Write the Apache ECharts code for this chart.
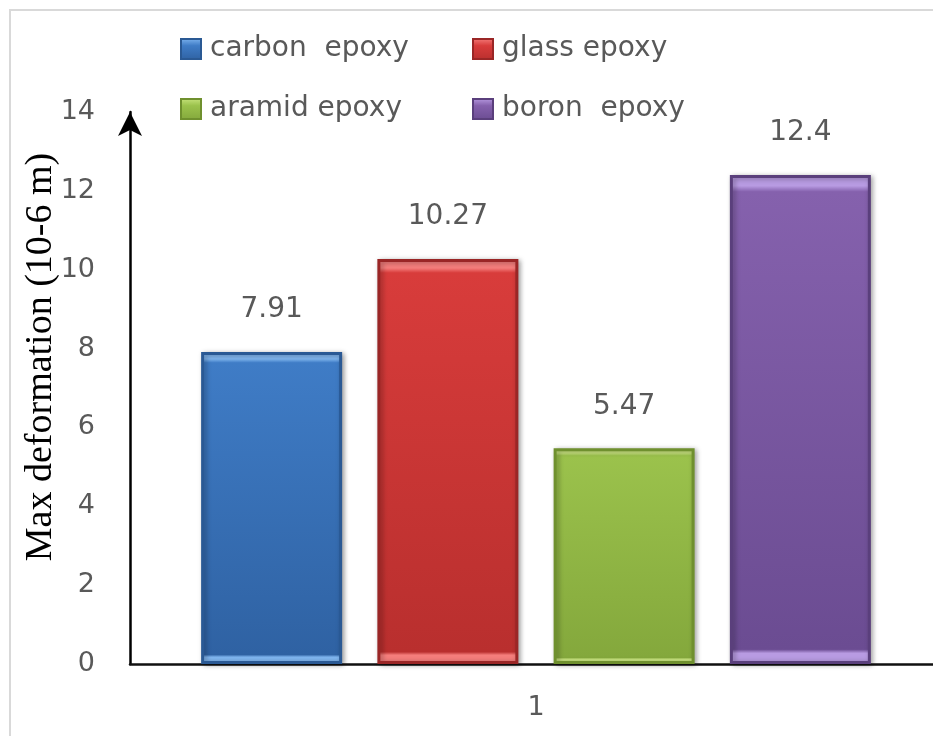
<!DOCTYPE html>
<html>
<head>
<meta charset="utf-8">
<script src="https://cdn.jsdelivr.net/npm/echarts@6/dist/echarts.min.js"></script>
<style>
  html, body { margin: 0; padding: 0; background: #ffffff; }
  #chart { width: 933px; height: 736px; }
</style>
</head>
<body>
<div id="chart"></div>
<script>
// Maximum deformation per composite material (units of 10^-6 m)
const categories = ['1'];
const seriesNames = ['carbon  epoxy', 'glass epoxy', 'aramid epoxy', 'boron  epoxy'];
const carbonEpoxy = [7.91];
const glassEpoxy = [10.27];
const aramidEpoxy = [5.47];
const boronEpoxy = [12.4];
const yTicks = { min: 0, max: 14, interval: 2 };

// Bevel-style palettes
const palettes = [
  { light: '#80b6f0', main: '#3f7cc6', dark: '#2f62a3', edge: '#2a5994' },
  { light: '#f57e7c', main: '#d83c3b', dark: '#b92f2e', edge: '#9a2626' },
  { light: '#c8e47e', main: '#9bc24c', dark: '#84a83c', edge: '#6f902e' },
  { light: '#b89be2', main: '#8561ad', dark: '#6b4c92', edge: '#5a3f7c' }
];

function barStyle(p) {
  return {
    color: new echarts.graphic.LinearGradient(0, 0, 0, 1, [
      { offset: 0, color: p.light },
      { offset: 0.022, color: p.light },
      { offset: 0.034, color: p.main },
      { offset: 0.97, color: p.dark },
      { offset: 0.978, color: p.light },
      { offset: 1, color: p.light }
    ]),
    borderColor: p.edge,
    borderWidth: 3,
    shadowColor: 'rgba(0,0,0,0.35)',
    shadowBlur: 5,
    shadowOffsetX: 2,
    shadowOffsetY: 1
  };
}

function legendIcon(p) {
  return {
    color: new echarts.graphic.LinearGradient(0, 0, 0, 1, [
      { offset: 0, color: p.light },
      { offset: 0.35, color: p.main },
      { offset: 1, color: p.dark }
    ])
  };
}

const valueSets = [carbonEpoxy, glassEpoxy, aramidEpoxy, boronEpoxy];
const textGray = '#595959';
const font = 'DejaVu Sans';

const series = seriesNames.map((name, i) => ({
  name: name,
  type: 'bar',
  data: valueSets[i],
  barWidth: 141,
  barGap: '25%',
  itemStyle: barStyle(palettes[i]),
  label: {
    show: true,
    position: 'top',
    distance: 28,
    color: textGray,
    fontFamily: font,
    fontSize: 28
  }
}));

const legendPos = [
  { left: 175, top: 30 },
  { left: 467, top: 30 },
  { left: 175, top: 90 },
  { left: 467, top: 90 }
];

const legends = seriesNames.map((name, i) => ({
  data: [{ name: name, itemStyle: legendIcon(palettes[i]) }],
  left: legendPos[i].left,
  top: legendPos[i].top,
  orient: 'horizontal',
  icon: 'rect',
  itemWidth: 20,
  itemHeight: 20,
  selectedMode: false,
  textStyle: { color: textGray, fontFamily: font, fontSize: 28, padding: [0, 0, 0, 4] }
}));

const chart = echarts.init(document.getElementById('chart'), null, { renderer: 'canvas' });
chart.setOption({
  backgroundColor: '#ffffff',
  animation: false,
  graphic: [{
    type: 'rect',
    shape: { x: 10, y: 10, width: 960, height: 760 },
    style: { fill: 'none', stroke: '#d9d9d9', lineWidth: 2 },
    z: -10
  }],
  legend: legends,
  grid: {
    left: 130, width: 812, top: 112, bottom: 72,
    containLabel: false,
    outerBoundsMode: 'none'
  },
  xAxis: {
    type: 'category',
    data: categories,
    axisLine: { show: true, lineStyle: { color: '#111', width: 2.5 } },
    axisTick: { show: false },
    axisLabel: { color: textGray, fontFamily: font, fontSize: 27, margin: 30 }
  },
  yAxis: {
    type: 'value',
    min: yTicks.min,
    max: yTicks.max,
    interval: yTicks.interval,
    name: 'Max deformation (10-6 m)',
    nameLocation: 'middle',
    nameGap: 70,
    nameRotate: 90,
    nameMoveOverlap: false,
    nameTextStyle: {
      color: '#000',
      fontFamily: 'Liberation Serif',
      fontSize: 38,
      padding: [0, 0, 0, 62]
    },
    axisLine: {
      show: true,
      symbol: ['none', 'arrow'],
      symbolSize: [18, 24],
      lineStyle: { color: '#000', width: 2.5 }
    },
    axisTick: { show: false },
    splitLine: { show: false },
    axisLabel: { color: textGray, fontFamily: font, fontSize: 27, margin: 35 }
  },
  series: series
});
</script>
</body>
</html>
